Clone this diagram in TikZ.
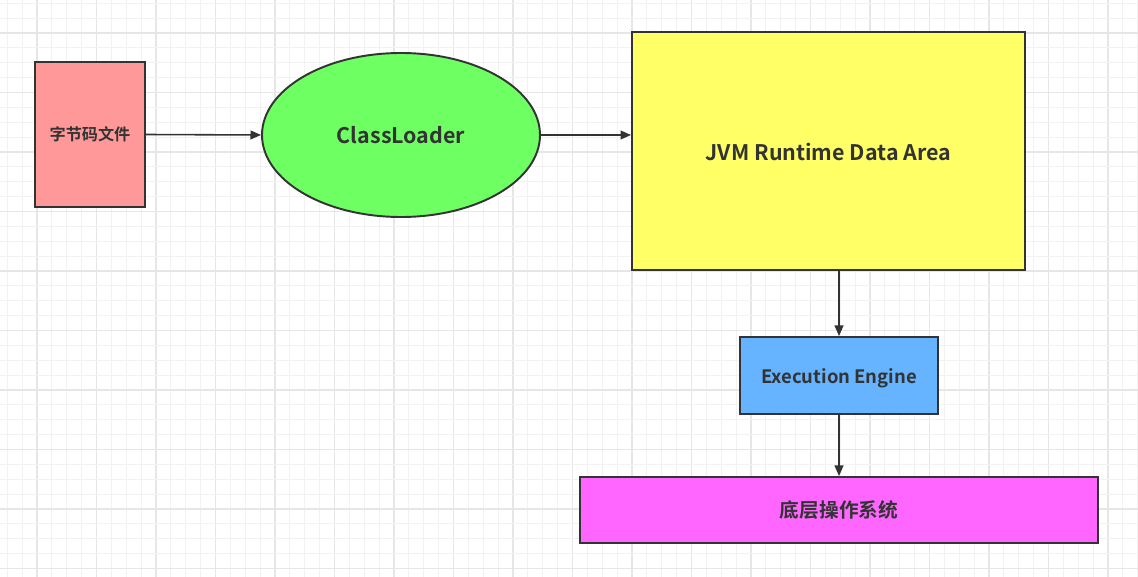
\documentclass[tikz,border=0pt]{standalone}
\usepackage{fontspec}
\setmainfont{Noto Sans CJK SC}[BoldFont={* Bold}]
\usetikzlibrary{shapes.geometric,arrows.meta}
\definecolor{edge}{HTML}{333333}
\definecolor{txt}{HTML}{333333}
\definecolor{gminor}{HTML}{F2F2F2}
\definecolor{gmajor}{HTML}{E6E6E6}
\definecolor{cred}{HTML}{FF9999}
\definecolor{cgreen}{HTML}{6EFF63}
\definecolor{cyellow}{HTML}{FFFF66}
\definecolor{cblue}{HTML}{66B3FF}
\definecolor{cmag}{HTML}{FF66FF}
\tikzset{
  box/.style={draw=edge, line width=1.1pt, inner sep=0pt, text=txt, font=\bfseries},
  conn/.style={draw=edge, line width=0.9pt, -{Triangle[length=6pt,width=5pt]}},
}
\begin{document}
\begin{tikzpicture}[x=0.02cm,y=-0.02cm]
\useasboundingbox (0,0) rectangle (1138,577);
\fill[white] (0,0) rectangle (1138,577);
% grid
\foreach \i in {0,...,76} {
  \pgfmathsetmacro{\gx}{7.25+14.875*\i}
  \pgfmathtruncatemacro{\m}{mod(\i,4)}
  \ifnum\m=2 \draw[gmajor,line width=0.6pt] (\gx,0) -- (\gx,577);
  \else \draw[gminor,line width=0.5pt] (\gx,0) -- (\gx,577); \fi
}
\foreach \j in {0,...,39} {
  \pgfmathsetmacro{\gy}{3.25+14.875*\j}
  \pgfmathtruncatemacro{\m}{mod(\j,4)}
  \ifnum\m=2 \draw[gmajor,line width=0.6pt] (0,\gy) -- (1138,\gy);
  \else \draw[gminor,line width=0.5pt] (0,\gy) -- (1138,\gy); \fi
}
% nodes
\node[box, fill=cred, minimum width=110*0.02cm, minimum height=145*0.02cm, font=\bfseries\fontsize{9.2}{11}\selectfont] (bc) at (90,134.5) {字节码文件};
\node[box, ellipse, fill=cgreen, minimum width=278*0.02cm, minimum height=164*0.02cm, font=\bfseries\fontsize{12.2}{14}\selectfont] (cl) at (401,135) {ClassLoader};
\node[box, fill=cyellow, minimum width=393*0.02cm, minimum height=238*0.02cm] (jvm) at (828.5,151) {};
\node[text=txt, font=\bfseries\fontsize{12.2}{14}\selectfont] (jvmt) at (828.5,152) {JVM Runtime Data Area};
\node[box, fill=cblue, minimum width=198*0.02cm, minimum height=77*0.02cm] (ee) at (839,375.5) {};
\node[text=txt, font=\bfseries\fontsize{10.5}{12}\selectfont] (eet) at (839,378) {Execution Engine};
\node[box, fill=cmag, minimum width=518*0.02cm, minimum height=66*0.02cm, font=\bfseries\fontsize{11.2}{13}\selectfont] (os) at (839,510) {底层操作系统};
% connectors
\draw[conn] (bc.east) -- (cl.west);
\draw[conn] (cl.east) -- (cl.east -| jvm.west);
\draw[conn] (ee.north |- jvm.south) -- (ee.north);
\draw[conn] (ee.south) -- (os.north);
\end{tikzpicture}
\end{document}
